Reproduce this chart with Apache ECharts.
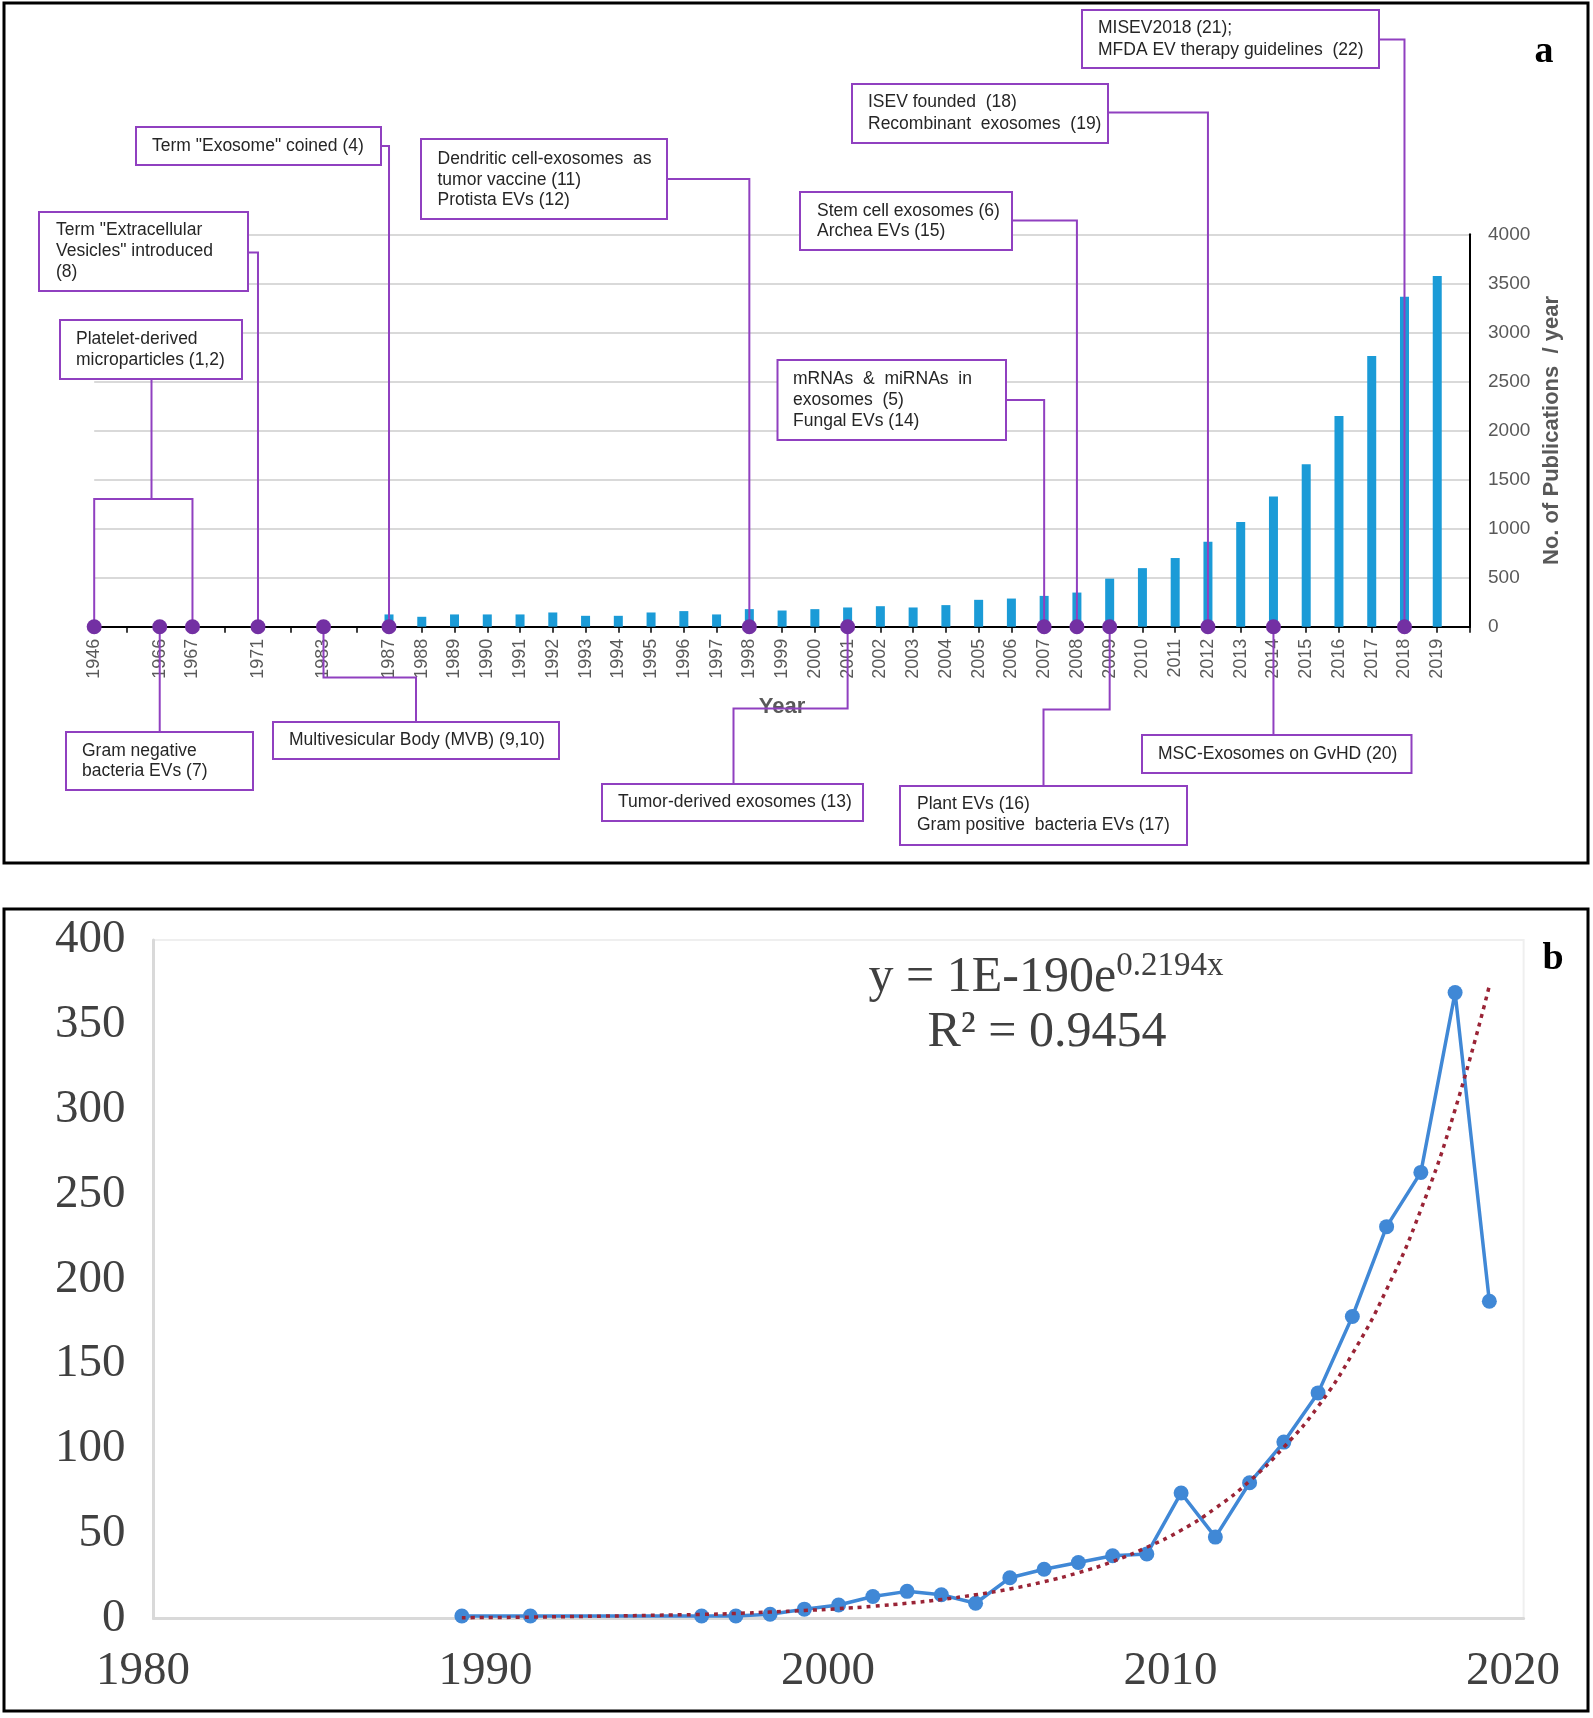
<!DOCTYPE html>
<html><head><meta charset="utf-8">
<script src="https://cdn.jsdelivr.net/npm/echarts@6/dist/echarts.min.js"></script>
<style>html,body{margin:0;padding:0;background:#fff;} #c{width:1593px;height:1718px;}</style>
</head><body><div id="c"></div>
<script>
// ---------- DATA ----------
// panel a: category axis (gaps are unlabeled slots)
const earlyCategories = ['1946', 'gap1', '1966', '1967', 'gap2', '1971', 'gap3', '1983', 'gap4'];
const barYears = ['1987','1988','1989','1990','1991','1992','1993','1994','1995','1996','1997','1998','1999','2000','2001','2002','2003','2004','2005','2006','2007','2008','2009','2010','2011','2012','2013','2014','2015','2016','2017','2018','2019'];
const barValues = [125,101,125,125,125,145,111,111,145,159,125,179,165,179,196,209,196,220,274,287,314,348,490,597,700,865,1068,1326,1656,2148,2759,3364,3575];
const eventYears = ['1946','1966','1967','1971','1983','1987','1998','2001','2007','2008','2009','2012','2014','2018'];
// panel b
const lineYears = [1989,1991,1996,1997,1998,1999,2000,2001,2002,2003,2004,2005,2006,2007,2008,2009,2010,2011,2012,2013,2014,2015,2016,2017,2018,2019];
const lineValues = [1.5,1.5,1.5,1.5,2.5,5.5,8,13,16,14,9,24,29,33,37,38,74,48,80,104,133,178,231,263,369,187];
const trendValues = [0.5,0.8,2.4,3.0,3.8,4.7,5.8,7.2,9,11.2,14,17.4,21.7,27,33.6,42,52,65,81,101,125,156,194,241,300,373];

const categories = earlyCategories.concat(barYears, ['gap5']);
const barData = earlyCategories.map(() => null).concat(barValues, [null]);
const dotData = eventYears.map(y => [categories.indexOf(y), 0]);
const lineData = lineYears.map((y, i) => [y, lineValues[i]]);
const trendData = lineYears.map((y, i) => [y, trendValues[i]]);

// ---------- STYLE ----------
const SANS = "'Liberation Sans', Arial, sans-serif";
const SERIF = "'Liberation Serif', 'Times New Roman', serif";
const LINE = '#9040c0';
const DOT = '#7330a3';
const plain = v => String(v);

const chart = echarts.init(document.getElementById('c'), null, {renderer: 'canvas', width: 1593, height: 1718});

const option = {
  animation: false,
  backgroundColor: '#ffffff',
  grid: [
    {left: 94.2, right: 123, top: 234.3, bottom: 1091.3},
    {left: 153.6, right: 69.4, top: 940, bottom: 99.5, show: true, borderColor: '#efefef', borderWidth: 2}
  ],
  xAxis: [
    {
      type: 'category', gridIndex: 0, data: categories, boundaryGap: false,
      axisLine: {lineStyle: {color: '#000', width: 2}},
      axisTick: {show: true, interval: 0, length: 6, lineStyle: {color: '#000', width: 1.5}},
      axisLabel: {interval: 0, rotate: 90, margin: 12, fontSize: 18, color: '#595959', fontFamily: SANS,
        formatter: v => /^\d{4}$/.test(v) ? v : ''},
      splitLine: {show: false},
      name: 'Year', nameLocation: 'middle', nameGap: 69,
      nameTextStyle: {fontSize: 22, fontWeight: 'bold', color: '#595959', fontFamily: SANS}
    },
    {
      type: 'value', gridIndex: 1, min: 1980, max: 2020, interval: 10,
      axisLine: {onZero: false, lineStyle: {color: '#d9d9d9', width: 3}},
      axisTick: {show: false}, splitLine: {show: false},
      axisLabel: {fontSize: 47, color: '#404040', fontFamily: SERIF, margin: 30, padding: [0, 21, 0, 0], formatter: plain}
    }
  ],
  yAxis: [
    {
      type: 'value', gridIndex: 0, position: 'right', min: 0, max: 4000, interval: 500,
      axisLine: {show: true, lineStyle: {color: '#000', width: 2}},
      axisTick: {show: false},
      axisLabel: {fontSize: 19, color: '#595959', fontFamily: SANS, margin: 18, formatter: plain},
      splitLine: {lineStyle: {color: '#d9d9d9', width: 2}},
      name: 'No. of Publications  / year', nameLocation: 'middle', nameGap: 70, nameRotate: 90,
      nameTextStyle: {fontSize: 22, fontWeight: 'bold', color: '#595959', fontFamily: SANS}
    },
    {
      type: 'value', gridIndex: 1, min: 0, max: 400, interval: 50,
      axisLine: {show: true, onZero: false, lineStyle: {color: '#d9d9d9', width: 3}},
      axisTick: {show: false}, splitLine: {show: false},
      axisLabel: {fontSize: 47, color: '#404040', fontFamily: SERIF, margin: 28, formatter: plain}
    }
  ],
  series: [
    {type: 'bar', xAxisIndex: 0, yAxisIndex: 0, data: barData, barWidth: 9,
     itemStyle: {color: '#1b9bd7'}, z: 2},
    {type: 'scatter', xAxisIndex: 0, yAxisIndex: 0, data: dotData, symbolSize: 15, clip: false,
     itemStyle: {color: DOT, opacity: 1}, z: 10},
    {type: 'line', xAxisIndex: 1, yAxisIndex: 1, data: lineData, symbol: 'circle', symbolSize: 15,
     lineStyle: {color: '#4088d6', width: 3.5}, itemStyle: {color: '#4088d6'}, z: 3},
    {type: 'line', xAxisIndex: 1, yAxisIndex: 1, data: trendData, smooth: true, symbol: 'none',
     lineStyle: {color: '#9a2436', width: 3.5, type: [4, 5]}, z: 4}
  ]
};
chart.setOption(option);

// ---------- ANNOTATIONS (layout) ----------
const notes = [
  {lines: ['Term "Exosome" coined (4)'], box: [136, 127, 381, 165], tx: 152, ty: [146.5]},
  {lines: ['Term "Extracellular', 'Vesicles" introduced', '(8)'], box: [39, 212, 248, 291], tx: 56, ty: [230, 251, 272.5]},
  {lines: ['Platelet-derived', 'microparticles (1,2)'], box: [60, 320, 242, 379], tx: 76, ty: [339.5, 360]},
  {lines: ['Dendritic cell-exosomes  as', 'tumor vaccine (11)', 'Protista EVs (12)'], box: [421, 139, 667, 219], tx: 437.5, ty: [159.5, 180, 200.5]},
  {lines: ['ISEV founded  (18)', 'Recombinant  exosomes  (19)'], box: [852, 84, 1108, 143], tx: 868, ty: [102.5, 124]},
  {lines: ['Stem cell exosomes (6)', 'Archea EVs (15)'], box: [800, 192, 1012, 250], tx: 817, ty: [211, 231.5]},
  {lines: ['mRNAs  &  miRNAs  in', 'exosomes  (5)', 'Fungal EVs (14)'], box: [777.5, 360, 1006, 440], tx: 793, ty: [379.5, 400, 421.5]},
  {lines: ['MISEV2018 (21);', 'MFDA EV therapy guidelines  (22)'], box: [1082, 10, 1379, 68], tx: 1098, ty: [28.5, 50]},
  {lines: ['Gram negative', 'bacteria EVs (7)'], box: [66, 732, 253, 790], tx: 82, ty: [751, 771.5]},
  {lines: ['Multivesicular Body (MVB) (9,10)'], box: [273, 722, 559, 759], tx: 289, ty: [740]},
  {lines: ['Tumor-derived exosomes (13)'], box: [602, 784, 863, 821], tx: 618, ty: [802.5]},
  {lines: ['Plant EVs (16)', 'Gram positive  bacteria EVs (17)'], box: [900, 786, 1187, 845], tx: 917, ty: [804, 825]},
  {lines: ['MSC-Exosomes on GvHD (20)'], box: [1142, 735, 1411.5, 773], tx: 1158, ty: [754]}
];

const P = y => chart.convertToPixel({xAxisIndex: 0, yAxisIndex: 0}, [categories.indexOf(y), 0]);
function right(bx, yl, yr) { const p = P(yr); return [[bx, yl], [p[0], yl], [p[0], p[1]]]; }
function down(yr, yt, xb, yb) { const p = P(yr); return [[p[0], p[1]], [p[0], yt], [xb, yt], [xb, yb]]; }
function straight(yr, yb) { const p = P(yr); return [[p[0], p[1]], [p[0], yb]]; }
const a46 = P('1946'), a67 = P('1967');
const conns = [
  right(381, 146, '1987'),
  right(248, 252.5, '1971'),
  [[151.5, 379], [151.5, 499]],
  [[a46[0], a46[1]], [a46[0], 499], [a67[0], 499], [a67[0], a67[1]]],
  right(667, 179, '1998'),
  right(1108, 112.5, '2012'),
  right(1012, 220.5, '2008'),
  right(1006, 400, '2007'),
  right(1379, 39.5, '2018'),
  straight('1966', 732),
  down('1983', 677.5, 416, 722),
  down('2001', 708.5, 733.5, 784),
  down('2009', 709.5, 1043.5, 786),
  straight('2014', 735)
];

const g = [];
conns.forEach(pts => g.push({type: 'polyline', z: 5, shape: {points: pts}, style: {stroke: LINE, lineWidth: 2, fill: null}}));
notes.forEach(n => {
  const [x1, y1, x2, y2] = n.box;
  g.push({type: 'rect', z: 6, shape: {x: x1, y: y1, width: x2 - x1, height: y2 - y1},
    style: {fill: '#ffffff', stroke: LINE, lineWidth: 2}});
  n.lines.forEach((t, i) => g.push({type: 'text', z: 7, style: {x: n.tx, y: n.ty[i], text: t,
    fontSize: 17.5, fontFamily: SANS, fill: '#262626', align: 'left', verticalAlign: 'middle'}}));
});
// panel letters & equation
g.push({type: 'text', z: 7, style: {x: 1544, y: 52, text: 'a', fontSize: 38, fontWeight: 'bold', fontFamily: SERIF, fill: '#000', align: 'center', verticalAlign: 'middle'}});
g.push({type: 'text', z: 7, style: {x: 1553, y: 959, text: 'b', fontSize: 38, fontWeight: 'bold', fontFamily: SERIF, fill: '#000', align: 'center', verticalAlign: 'middle'}});
g.push({type: 'text', z: 7, style: {x: 1046, y: 978, text: '{m|y = 1E-190e}{s|0.2194x}', align: 'center', verticalAlign: 'middle',
  rich: {m: {fontSize: 50, fontFamily: SERIF, fill: '#404040', lineHeight: 56},
         s: {fontSize: 33, fontFamily: SERIF, fill: '#404040', lineHeight: 33, verticalAlign: 'top'}}}});
g.push({type: 'text', z: 7, style: {x: 1047, y: 1033, text: 'R² = 0.9454', fontSize: 50, fontFamily: SERIF, fill: '#404040', align: 'center', verticalAlign: 'middle'}});
// panel frames
g.push({type: 'rect', z: 20, shape: {x: 4, y: 3, width: 1584, height: 860}, style: {fill: null, stroke: '#000', lineWidth: 3}});
g.push({type: 'rect', z: 20, shape: {x: 4, y: 909, width: 1584, height: 802}, style: {fill: null, stroke: '#000', lineWidth: 3}});

chart.setOption({graphic: {elements: g}});
</script></body></html>
